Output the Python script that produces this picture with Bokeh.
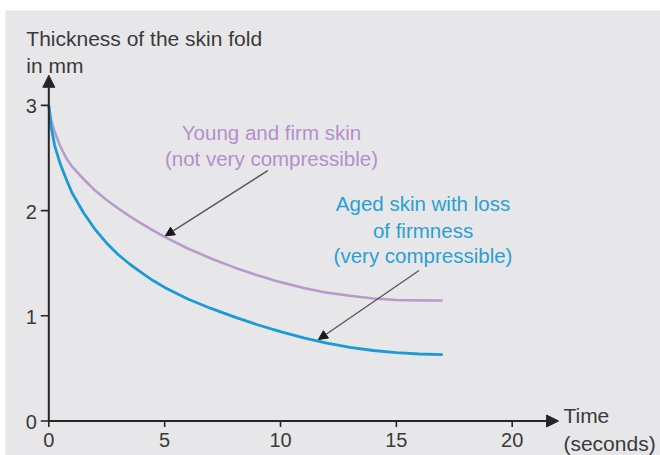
import math
from bokeh.plotting import figure
from bokeh.models import Range1d, Arrow, NormalHead, Label
from bokeh.core.properties import value
from bokeh.embed import file_html
from bokeh.resources import INLINE

# ---- data ----
time_s = [0, 0.1, 0.25, 0.5, 0.75, 1, 1.5, 2, 2.5, 3, 3.5, 4, 4.5, 5,
          6, 7, 8, 9, 10, 11, 12, 13, 14, 15, 16, 17]
young_skin = [3.00, 2.86, 2.75, 2.61, 2.50, 2.42, 2.30, 2.19, 2.10, 2.02, 1.945, 1.877, 1.812, 1.75,
              1.64, 1.545, 1.46, 1.385, 1.32, 1.265, 1.22, 1.19, 1.165, 1.15, 1.147, 1.145]
aged_skin = [3.00, 2.80, 2.62, 2.44, 2.30, 2.17, 1.98, 1.82, 1.69, 1.58, 1.49, 1.41, 1.335, 1.27,
             1.16, 1.07, 0.99, 0.915, 0.85, 0.79, 0.74, 0.70, 0.67, 0.65, 0.637, 0.63]
x_ticks = [0, 5, 10, 15, 20]
y_ticks = [0, 1, 2, 3]
x_tick_labels = ["0", "5", "10", "15", "20"]
y_tick_labels = ["0", "1", "2", "3"]
x_axis_end = 22.0
y_axis_end = 3.286

young_label = ["Young and firm skin", "(not very compressible)"]
aged_label = ["Aged skin with loss", "of firmness", "(very compressible)"]
y_title = ["Thickness of the skin fold", "in mm"]
x_title = ["Time", "(seconds)"]

BG = "#e7e7e9"
AXIS = "#262626"
TEXT = "#3a3a3a"
PURPLE = "#b99bcb"
PURPLE_TXT = "#b48fcb"
BLUE = "#1b9bd6"
BLUE_TXT = "#2a9fd6"
FONT = "Liberation Sans"

p = figure(width=660, height=455, output_backend="svg", toolbar_location=None,
           x_range=Range1d(-1.869, 26.40), y_range=Range1d(-0.328, 3.902),
           min_border_left=5, min_border_right=0, min_border_top=10, min_border_bottom=0)
p.background_fill_color = BG
p.border_fill_color = "white"
p.outline_line_color = None
p.grid.visible = False
p.axis.visible = False

# curves
p.line(time_s, young_skin, line_color=PURPLE, line_width=2.6, line_join="round")
p.line(time_s, aged_skin, line_color=BLUE, line_width=2.8, line_join="round")

# axes with arrow heads
p.add_layout(Arrow(end=NormalHead(size=12, fill_color=AXIS, line_color=AXIS, line_width=1),
                   x_start=0, y_start=0, x_end=0, y_end=y_axis_end,
                   line_color=AXIS, line_width=2))
p.add_layout(Arrow(end=NormalHead(size=12, fill_color=AXIS, line_color=AXIS, line_width=1),
                   x_start=0, y_start=0, x_end=x_axis_end, y_end=0,
                   line_color=AXIS, line_width=2))

# ticks (screen-length rays from the axis lines)
p.ray(x=x_ticks, y=[0] * len(x_ticks), length=6, length_units="screen",
      angle=-math.pi / 2, line_color=AXIS, line_width=1.6)
p.ray(x=[0] * len(y_ticks), y=y_ticks, length=8, length_units="screen",
      angle=math.pi, line_color=AXIS, line_width=1.6)

# tick labels
p.text(x=x_ticks, y=[0] * len(x_ticks), text=x_tick_labels, text_align="center",
       text_baseline="middle", y_offset=19, text_font=value(FONT),
       text_font_size=value("20px"), text_color=TEXT)
p.text(x=[0] * len(y_ticks), y=y_ticks, text=y_tick_labels, text_align="right",
       text_baseline="middle", x_offset=-12, y_offset=1, text_font=value(FONT),
       text_font_size=value("20px"), text_color=TEXT)

# pointer arrows
p.add_layout(Arrow(end=NormalHead(size=9, fill_color="#1a1a1a", line_color="#1a1a1a"),
                   x_start=9.45, y_start=2.38, x_end=5.03, y_end=1.76,
                   line_color="#555555", line_width=1.3))
p.add_layout(Arrow(end=NormalHead(size=9, fill_color="#1a1a1a", line_color="#1a1a1a"),
                   x_start=15.98, y_start=1.43, x_end=11.64, y_end=0.775,
                   line_color="#555555", line_width=1.3))

def add_label(x, y, text, color, size, align="center"):
    p.add_layout(Label(x=x, y=y, text=text, text_align=align, text_baseline="alphabetic",
                       text_font=FONT, text_font_size=size, text_color=color))

young_baselines = [2.745, 2.492]
aged_baselines = [2.065, 1.811, 1.573]
y_title_baselines = [3.633, 3.379]
x_title_baselines = [0.052, -0.214]

for t, b in zip(young_label, young_baselines):
    add_label(9.61, b, t, PURPLE_TXT, "20.5px")
for t, b in zip(aged_label, aged_baselines):
    add_label(16.15, b, t, BLUE_TXT, "20.5px")
for t, b in zip(y_title, y_title_baselines):
    add_label(-0.97, b, t, TEXT, "21px", align="left")
for t, b in zip(x_title, x_title_baselines):
    add_label(22.21, b, t, TEXT, "21px", align="left")

open("out.html", "w").write(file_html(p, INLINE))
